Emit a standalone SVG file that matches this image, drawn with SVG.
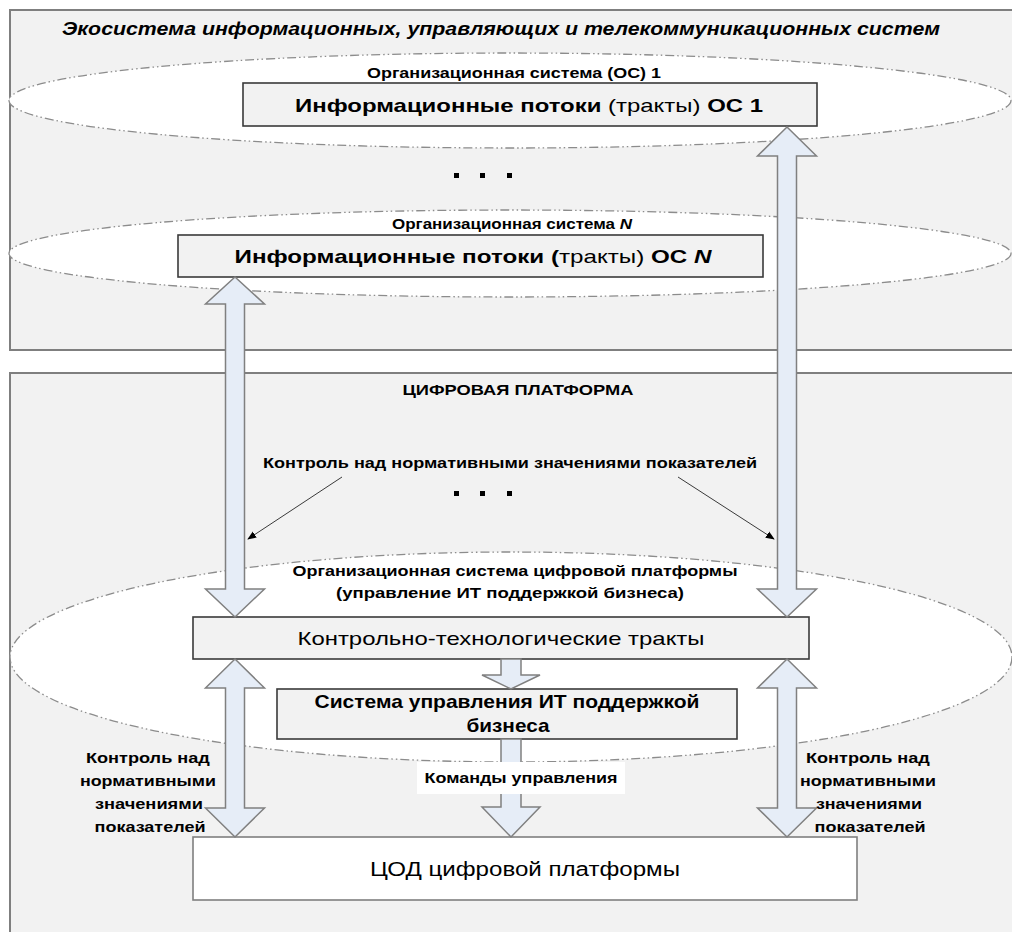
<svg xmlns="http://www.w3.org/2000/svg" width="1012" height="932" viewBox="0 0 1012 932">
<defs>
<style>
.panel{fill:#f2f2f2;stroke:#7f7f7f;stroke-width:2}
.ell{fill:#ffffff;stroke:#8c8c8c;stroke-width:1.3;stroke-dasharray:9 3 1.5 3 1.5 3}
.box{fill:#f2f2f2;stroke:#3a3a3a;stroke-width:1.6}
.wbox{fill:#ffffff;stroke:#7f7f7f;stroke-width:1.6}
.arr{fill:#e6edf7;stroke:#808080;stroke-width:1.5;stroke-linejoin:miter}
.thin{stroke:#3a3a3a;stroke-width:1;fill:none}
.t{font-family:"Liberation Sans",Arial,sans-serif;fill:#000}
.b{font-weight:bold}
.n{font-weight:normal}
.dot{fill:#000}
</style>
<marker id="ah" viewBox="0 0 10 10" refX="9" refY="5" markerWidth="9" markerHeight="9" markerUnits="userSpaceOnUse" orient="auto">
<path d="M0,1 L10,5 L0,9 Z" fill="#000"/>
</marker>
</defs>
<rect width="1012" height="932" fill="#ffffff"/>

<g id="ecosystem">
<rect class="panel" x="10" y="10" width="1010" height="340"/>
<text class="t b" x="501" y="35" font-size="18" font-style="italic" text-anchor="middle" textLength="878" lengthAdjust="spacingAndGlyphs">Экосистема информационных, управляющих и телекоммуникационных систем</text>
</g>

<g id="os1">
<ellipse class="ell" cx="510" cy="100.5" rx="501" ry="47.5"/>
<text class="t b" x="514" y="78" font-size="14" text-anchor="middle" textLength="294" lengthAdjust="spacingAndGlyphs">Организационная система (ОС) 1</text>
</g>
<g id="flows1">
<rect class="box" x="243" y="83" width="574" height="43"/>
<text class="t b" x="529" y="112" font-size="19" text-anchor="middle" textLength="468" lengthAdjust="spacingAndGlyphs">Информационные потоки <tspan class="n">(тракты)</tspan> ОС 1</text>
</g>

<g id="dots1">
<rect class="dot" x="454" y="173" width="5" height="5"/>
<rect class="dot" x="480" y="173" width="5" height="5"/>
<rect class="dot" x="507" y="173" width="5" height="5"/>
</g>

<g id="osN">
<ellipse class="ell" cx="510" cy="253.5" rx="501" ry="43.5"/>
<text class="t b" x="512" y="229" font-size="14" text-anchor="middle" textLength="240" lengthAdjust="spacingAndGlyphs">Организационная система <tspan font-style="italic">N</tspan></text>
</g>
<g id="flowsN">
<rect class="box" x="178" y="235" width="585" height="42"/>
<text class="t b" x="473" y="263" font-size="19" text-anchor="middle" textLength="477" lengthAdjust="spacingAndGlyphs">Информационные потоки (<tspan class="n">тракты)</tspan> ОС <tspan font-style="italic">N</tspan></text>
</g>

<g id="platform">
<rect class="panel" x="10" y="373" width="1010" height="580"/>
<text class="t b" x="518" y="395" font-size="14" text-anchor="middle" textLength="231" lengthAdjust="spacingAndGlyphs">ЦИФРОВАЯ ПЛАТФОРМА</text>
<text class="t b" x="510" y="468" font-size="15" text-anchor="middle" textLength="494" lengthAdjust="spacingAndGlyphs">Контроль над нормативными значениями показателей</text>
</g>

<g id="dots2">
<rect class="dot" x="454" y="491" width="5" height="5"/>
<rect class="dot" x="480" y="491" width="5" height="5"/>
<rect class="dot" x="507" y="491" width="5" height="5"/>
</g>

<g id="os-platform">
<ellipse class="ell" cx="511" cy="657" rx="501" ry="105"/>
<text class="t b" x="515" y="576" font-size="15" text-anchor="middle" textLength="445" lengthAdjust="spacingAndGlyphs">Организационная система цифровой платформы</text>
<text class="t b" x="510" y="598" font-size="15" text-anchor="middle" textLength="348" lengthAdjust="spacingAndGlyphs">(управление ИТ поддержкой бизнеса)</text>
</g>

<g id="control-tracts">
<rect class="box" x="193" y="617" width="616" height="42"/>
<text class="t" x="501" y="645" font-size="19" text-anchor="middle" textLength="407" lengthAdjust="spacingAndGlyphs">Контрольно-технологические тракты</text>
</g>

<g id="it-management">
<rect class="box" x="277" y="689" width="460" height="50"/>
<text class="t b" x="507" y="708" font-size="19" text-anchor="middle" textLength="385" lengthAdjust="spacingAndGlyphs">Система управления ИТ поддержкой</text>
<text class="t b" x="508" y="732" font-size="19" text-anchor="middle" textLength="83" lengthAdjust="spacingAndGlyphs">бизнеса</text>
</g>

<g id="datacenter">
<rect class="wbox" x="193" y="837" width="664" height="63"/>
<text class="t" x="525" y="876" font-size="20" text-anchor="middle" textLength="310" lengthAdjust="spacingAndGlyphs">ЦОД цифровой платформы</text>
</g>

<g id="connectors">
<path class="arr" d="M235,277 L264.5,304 L244.5,304 L244.5,589 L264.5,589 L235,617 L205.5,589 L225.5,589 L225.5,304 L205.5,304 Z"/>
<path class="arr" d="M787,127 L816.5,156 L796.5,156 L796.5,589 L816.5,589 L787,617 L757.5,589 L777.5,589 L777.5,156 L757.5,156 Z"/>
<path class="arr" d="M235,659 L264.5,688 L244.5,688 L244.5,808 L264.5,808 L235,837 L205.5,808 L225.5,808 L225.5,688 L205.5,688 Z"/>
<path class="arr" d="M787,659 L816.5,688 L796.5,688 L796.5,808 L816.5,808 L787,837 L757.5,808 L777.5,808 L777.5,688 L757.5,688 Z"/>
<path class="arr" d="M501,659 L521,659 L521,675 L540,675 L511,689 L482,675 L501,675 Z"/>
<path class="arr" d="M501,739 L521,739 L521,807 L540,807 L511,837 L482,807 L501,807 Z"/>
<line class="thin" x1="342" y1="477" x2="248" y2="539" marker-end="url(#ah)"/>
<line class="thin" x1="678" y1="477" x2="774" y2="539" marker-end="url(#ah)"/>
</g>

<g id="commands-label">
<rect x="417" y="762" width="208" height="32" fill="#ffffff"/>
<text class="t b" x="521" y="783" font-size="15" text-anchor="middle" textLength="193" lengthAdjust="spacingAndGlyphs">Команды управления</text>
</g>

<g id="label-left">
<text class="t b" font-size="15" text-anchor="middle">
<tspan x="150" y="763" textLength="124" lengthAdjust="spacingAndGlyphs">Контроль над</tspan>
<tspan x="150" y="786" textLength="136" lengthAdjust="spacingAndGlyphs">нормативными</tspan>
<tspan x="151" y="809" textLength="108" lengthAdjust="spacingAndGlyphs">значениями</tspan>
<tspan x="150" y="832" textLength="111" lengthAdjust="spacingAndGlyphs">показателей</tspan>
</text>
</g>
<g id="label-right">
<text class="t b" font-size="15" text-anchor="middle">
<tspan x="870" y="763" textLength="124" lengthAdjust="spacingAndGlyphs">Контроль над</tspan>
<tspan x="870" y="786" textLength="136" lengthAdjust="spacingAndGlyphs">нормативными</tspan>
<tspan x="871" y="809" textLength="106" lengthAdjust="spacingAndGlyphs">значениями</tspan>
<tspan x="870" y="832" textLength="111" lengthAdjust="spacingAndGlyphs">показателей</tspan>
</text>
</g>
</svg>
